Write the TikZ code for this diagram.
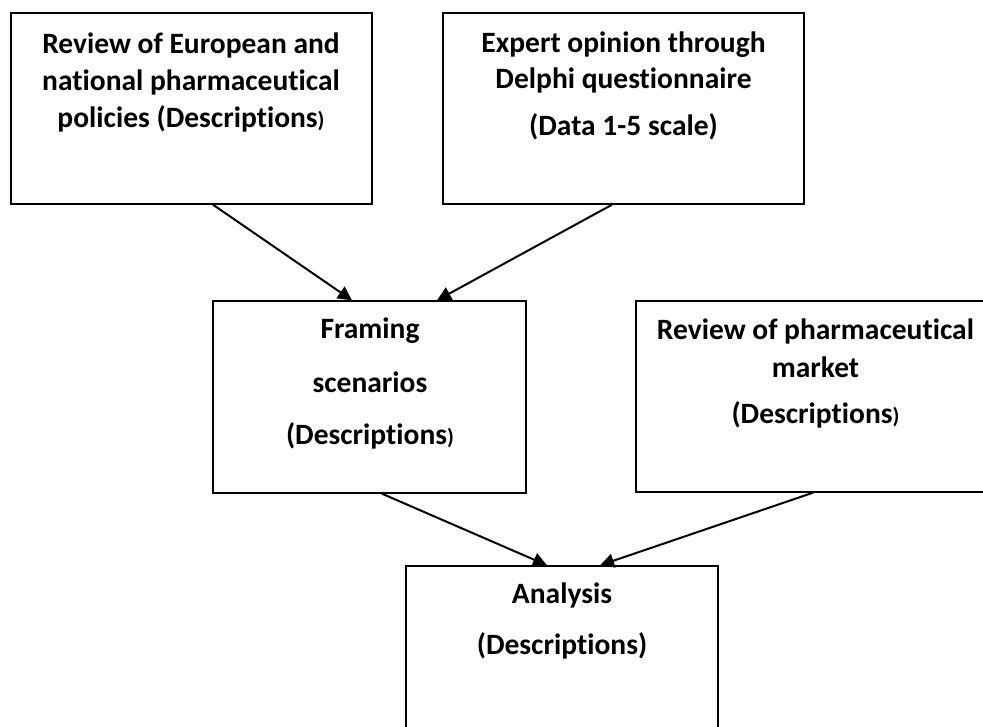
\documentclass[tikz,border=0pt]{standalone}
\usepackage{fontspec}
\setmainfont{Carlito}[Ligatures=NoCommon]
\usetikzlibrary{arrows.meta}
\newcommand{\smallparen}{{\fontsize{22}{26}\selectfont)}}
\begin{document}
\begin{tikzpicture}[x=1pt,y=-1pt,
  stagebox/.style={draw=black, line width=1.4pt, fill=none, inner sep=0pt},
  txt/.style={anchor=base, inner sep=0pt, font=\fontsize{29.5}{34}\selectfont\bfseries},
  flow/.style={draw=black, line width=2pt, -{Triangle[length=14pt,width=14pt]}}]
\useasboundingbox (0,0) rectangle (983,726);
\clip (0,0) rectangle (983,726);

% boxes
\node[stagebox, minimum width=361pt, minimum height=191pt] (b1) at (191.5,108.5) {};
\node[stagebox, minimum width=361pt, minimum height=191pt] (b2) at (623.5,108.5) {};
\node[stagebox, minimum width=313pt, minimum height=192pt] (b3) at (369.5,397) {};
\node[stagebox, minimum width=359pt, minimum height=191pt] (b4) at (815.5,396.5) {};
\node[stagebox, minimum width=312pt, minimum height=230pt] (b5) at (562,681) {};

% texts
\node[txt] (t1a) at (191,53) {Review of European and};
\node[txt] (t1b) at (191,90) {national pharmaceutical};
\node[txt] (t1c) at (191,127) {policies (Descriptions\smallparen};

\node[txt] (t2a) at (623.5,52) {Expert opinion through};
\node[txt] (t2b) at (623.5,88) {Delphi questionnaire};
\node[txt] (t2c) at (623.5,135) {(Data 1-5 scale)};

\node[txt] (t3a) at (370,338) {Framing};
\node[txt] (t3b) at (370,392) {scenarios};
\node[txt] (t3c) at (370,444) {(Descriptions\smallparen};

\node[txt] (t4a) at (815.5,339) {Review of pharmaceutical};
\node[txt] (t4b) at (815.5,377) {market};
\node[txt] (t4c) at (815.5,423) {(Descriptions\smallparen};

\node[txt] (t5a) at (562,603) {Analysis};
\node[txt] (t5b) at (562,654) {(Descriptions)};

% connectors
\draw[flow] ([xshift=21.5pt]b1.south) -- ([xshift=-17.5pt]b3.north);
\draw[flow] ([xshift=-11.5pt]b2.south) -- ([xshift=67.5pt]b3.north);
\draw[flow] ([xshift=12.5pt]b3.south) -- ([xshift=-15pt]b5.north);
\draw[flow] ([xshift=-2.5pt]b4.south) -- ([xshift=38pt]b5.north);
\end{tikzpicture}
\end{document}
